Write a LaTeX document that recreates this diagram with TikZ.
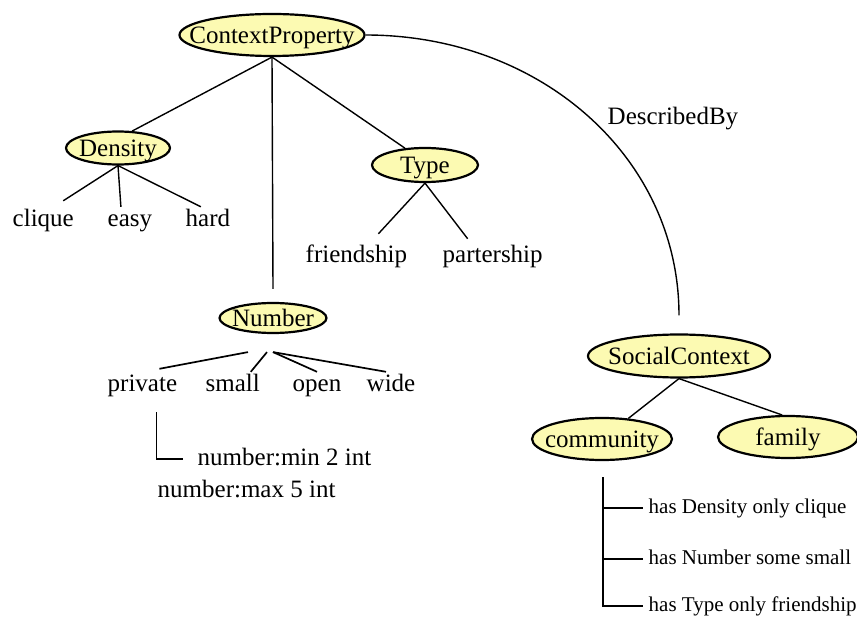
\documentclass[tikz,border=0pt]{standalone}
\usepackage{fontspec}
\setmainfont{Liberation Serif}
\usetikzlibrary{shapes.geometric}
\definecolor{conceptfill}{RGB}{252,250,178}
% text that does not widen the ellipse
\newcommand\intext[1]{\raisebox{-0.33em}[0pt][0pt]{\makebox[0pt]{#1}}}
\begin{document}
\begin{tikzpicture}[x=1pt,y=1pt,line width=1.4pt,
  concept/.style={ellipse,draw,line width=2.2pt,fill=conceptfill,inner sep=0pt,
    font=\fontsize{25}{30}\selectfont},
  word/.style={anchor=base west,inner sep=2pt,text height=17.5pt,text depth=5.5pt,
    font=\fontsize{25}{30}\selectfont},
  rule/.style={anchor=base west,inner sep=2pt,text height=14.7pt,text depth=4.6pt,
    font=\fontsize{21}{25}\selectfont}]
\useasboundingbox (0,0) rectangle (857,-617);
% concepts
\node[concept,minimum width=185,minimum height=42] (CP) at (272,-35) {\intext{ContextProperty}};
\node[concept,minimum width=104,minimum height=33] (Den) at (118,-148) {\intext{Density}};
\node[concept,minimum width=106,minimum height=34] (Typ) at (425,-165) {\intext{Type}};
\node[concept,minimum width=107,minimum height=30] (Num) at (273,-318) {\intext{Number}};
\node[concept,minimum width=182,minimum height=43] (SC) at (679,-356) {\intext{SocialContext}};
\node[concept,minimum width=140,minimum height=42] (Com) at (602,-439) {\intext{community}};
\node[concept,minimum width=140,minimum height=42] (Fam) at (788,-437) {\intext{family}};
% values
\node[word] (cli) at (10,-227) {clique};
\node[word] (eas) at (105,-227) {easy};
\node[word] (har) at (183,-227) {hard};
\node[word] (fri) at (303,-263) {friendship};
\node[word] (par) at (440,-263) {partership};
\node[word] (pri) at (105,-392) {private};
\node[word] (sma) at (203,-392) {small};
\node[word] (ope) at (290,-392) {open};
\node[word] (wid) at (364,-392) {wide};
\node[word] (nmin) at (195,-465) {number:min 2 int};
\node[word] (nmax) at (155,-497) {number:max 5 int};
\node[word] (desc) at (605,-125) {DescribedBy};
\node[rule] (h1) at (646,-513) {has Density only clique};
\node[rule] (h2) at (646,-564) {has Number some small};
\node[rule] (h3) at (646,-611) {has Type only friendship};
% tree
\draw (CP.south) -- (Den.50);
\draw (CP.south) -- (Typ.140);
\draw (CP.south) -- ([yshift=13pt]Num.north);
\draw (Den.south) -- ([xshift=20pt,yshift=6pt]cli.north);
\draw (Den.south) -- ([xshift=-9pt]eas.north);
\draw (Den.south) -- ([xshift=-7pt]har.north);
\draw (Typ.south) -- ([xshift=22pt,yshift=9pt]fri.north);
\draw (Typ.south) -- ([xshift=-25pt,yshift=4pt]par.north);
\coordinate (nj) at ([yshift=-18pt]Num.south);
\begin{scope}[line width=1.7pt]
\draw ([xshift=-25pt]nj) -- ([xshift=17pt,yshift=3pt]pri.north);
\draw ([xshift=-6pt]nj) -- ([xshift=18pt]sma.north);
\draw (nj) -- (ope.north);
\draw (nj) -- ([xshift=-5pt]wid.north);
\end{scope}
\draw ([xshift=14pt,yshift=-12pt]pri.south) |- ([xshift=-12pt]nmin.west);
% relation
\draw (CP.east) .. controls +(175,0) and +(0,158) .. ([yshift=18pt]SC.north);
\draw (SC.south) -- (Com.38);
\draw (SC.south) -- (Fam.105);
\coordinate (br) at ([xshift=1pt,yshift=-16pt]Com.south);
\draw (br) |- ([xshift=-3pt]h3.west);
\draw (br |- h1.west) -- ([xshift=-3pt]h1.west);
\draw (br |- h2.west) -- ([xshift=-3pt]h2.west);
\end{tikzpicture}
\end{document}
